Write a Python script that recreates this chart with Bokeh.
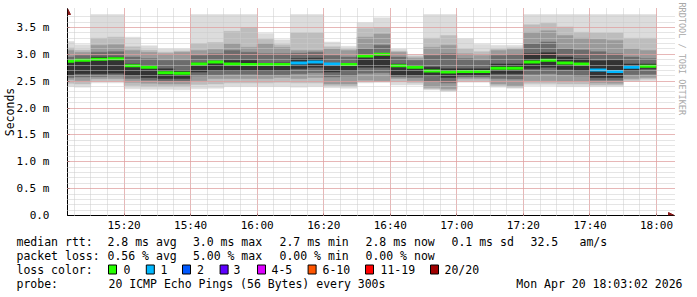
import math
from bokeh.plotting import figure
from bokeh.models import Range1d, FixedTicker, Arrow, NormalHead, Title
from bokeh.layouts import column
from bokeh.embed import file_html
from bokeh.resources import INLINE
from bokeh.core.properties import value

# ---------------- data ----------------
# 5-minute buckets, start minute (since midnight) of each bucket, 15:00 .. 17:55
bucket_start = [900 + 5 * i for i in range(36)]
bucket_end = [s + 5 for s in bucket_start]

median_ms = [2.87, 2.89, 2.91, 2.92, 2.79, 2.76, 2.66, 2.65, 2.82, 2.86,
             2.82, 2.81, 2.81, 2.81, 2.84, 2.86, 2.82, 2.81, 2.97, 3.00,
             2.79, 2.76, 2.69, 2.67, 2.68, 2.68, 2.74, 2.74, 2.86, 2.89,
             2.84, 2.82, 2.71, 2.68, 2.76, 2.78]
loss = [0, 0, 0, 0, 0, 0, 0, 0, 0, 0,
        0, 0, 0, 0, 1, 1, 1, 0, 0, 0,
        0, 0, 0, 0, 0, 0, 0, 0, 0, 0,
        0, 0, 1, 1, 1, 0]

smoke_max = [3.24, 3.18, 3.74, 3.74, 3.32, 3.16, 3.10, 3.10, 3.74, 3.74,
             3.74, 3.74, 3.39, 3.27, 3.74, 3.74, 3.23, 3.15, 3.59, 3.68,
             3.10, 2.99, 3.74, 3.74, 3.29, 3.19, 3.17, 3.17, 3.74, 3.74,
             3.74, 3.74, 3.74, 3.74, 3.74, 3.74]
smoke_hi1 = [3.12, 3.08, 3.30, 3.32, 3.14, 3.08, 3.04, 3.06, 3.20, 3.22,
             3.43, 3.50, 3.28, 3.18, 3.40, 3.40, 3.14, 3.10, 3.48, 3.50,
             3.06, 2.96, 3.30, 3.35, 3.10, 3.05, 3.10, 3.12, 3.55, 3.58,
             3.51, 3.41, 3.40, 3.40, 3.30, 3.30]
smoke_hi2 = [3.07, 3.04, 3.17, 3.18, 3.07, 3.04, 3.01, 3.04, 3.07, 3.09,
             3.20, 3.13, 3.20, 3.13, 3.07, 3.07, 3.10, 3.07, 3.32, 3.38,
             3.04, 2.93, 3.13, 3.17, 3.01, 2.98, 3.07, 3.09, 3.41, 3.44,
             3.35, 3.30, 3.28, 3.26, 3.10, 3.07]
smoke_hi3 = [2.95, 2.98, 3.04, 3.05, 2.95, 2.92, 2.89, 2.89, 2.98, 3.01,
             3.07, 3.04, 3.01, 3.01, 3.02, 3.04, 2.98, 2.95, 3.10, 3.17,
             2.95, 2.89, 2.98, 3.01, 2.92, 2.89, 2.98, 3.00, 3.20, 3.23,
             3.10, 3.08, 3.05, 3.01, 2.95, 2.92]
smoke_hi4 = [2.88, 2.90, 2.95, 2.95, 2.82, 2.79, 2.73, 2.70, 2.84, 2.86,
             2.89, 2.89, 2.82, 2.84, 2.92, 2.93, 2.83, 2.82, 2.98, 3.01,
             2.82, 2.79, 2.76, 2.73, 2.73, 2.73, 2.82, 2.82, 3.01, 3.03,
             2.95, 2.92, 2.88, 2.89, 2.82, 2.82]
smoke_lo4 = [2.62, 2.64, 2.64, 2.65, 2.61, 2.57, 2.55, 2.55, 2.67, 2.70,
             2.70, 2.70, 2.70, 2.70, 2.73, 2.76, 2.67, 2.70, 2.76, 2.76,
             2.61, 2.61, 2.61, 2.57, 2.61, 2.61, 2.64, 2.64, 2.73, 2.76,
             2.72, 2.70, 2.57, 2.57, 2.70, 2.73]
smoke_lo3 = [2.57, 2.58, 2.59, 2.60, 2.55, 2.52, 2.50, 2.50, 2.60, 2.62,
             2.63, 2.63, 2.62, 2.62, 2.64, 2.66, 2.58, 2.60, 2.65, 2.66,
             2.58, 2.57, 2.50, 2.47, 2.58, 2.58, 2.55, 2.54, 2.63, 2.64,
             2.62, 2.60, 2.52, 2.52, 2.62, 2.63]
smoke_lo2 = [2.53, 2.51, 2.55, 2.55, 2.48, 2.46, 2.45, 2.45, 2.51, 2.55,
             2.55, 2.55, 2.55, 2.57, 2.55, 2.57, 2.45, 2.45, 2.52, 2.51,
             2.55, 2.51, 2.39, 2.36, 2.55, 2.55, 2.45, 2.42, 2.51, 2.51,
             2.50, 2.50, 2.47, 2.46, 2.55, 2.57]
smoke_lo1 = [2.46, 2.45, 2.51, 2.51, 2.42, 2.40, 2.40, 2.40, 2.44, 2.45,
             2.47, 2.47, 2.47, 2.48, 2.47, 2.47, 2.42, 2.41, 2.49, 2.49,
             2.49, 2.47, 2.36, 2.33, 2.51, 2.51, 2.42, 2.39, 2.46, 2.46,
             2.45, 2.45, 2.43, 2.43, 2.52, 2.54]
smoke_min = [2.40, 2.39, 2.47, 2.47, 2.36, 2.35, 2.35, 2.34, 2.36, 2.37,
             2.40, 2.40, 2.40, 2.40, 2.39, 2.40, 2.38, 2.37, 2.47, 2.48,
             2.43, 2.43, 2.34, 2.31, 2.48, 2.48, 2.39, 2.37, 2.42, 2.42,
             2.40, 2.40, 2.40, 2.40, 2.50, 2.51]

y_ticks = [0.0, 0.5, 1.0, 1.5, 2.0, 2.5, 3.0, 3.5]
y_tick_labels = ["0.0", "0.5 m", "1.0 m", "1.5 m", "2.0 m", "2.5 m", "3.0 m", "3.5 m"]
x_ticks = [920, 940, 960, 980, 1000, 1020, 1040, 1060, 1080]
x_tick_labels = ["15:20", "15:40", "16:00", "16:20", "16:40", "17:00", "17:20", "17:40", "18:00"]

loss_legend_labels = ["0", "1", "2", "3", "4-5", "6-10", "11-19", "20/20"]
loss_legend_colors = ["#26ff00", "#00b8ff", "#0059ff", "#5e00ff", "#dd00ff", "#ff5500", "#ff0000", "#a00000"]

stats_rtt = ["2.8 ms avg", "3.0 ms max", "2.7 ms min", "2.8 ms now", "0.1 ms sd", "32.5", "am/s"]
stats_loss = ["0.56 % avg", "5.00 % max", "0.00 % min", "0.00 % now"]
probe_text = "20 ICMP Echo Pings (56 Bytes) every 300s"
stamp_text = "Mon Apr 20 18:03:02 2026"

# ---------------- chart ----------------
MONO = "DejaVu Sans Mono"
DATA_TOP = 3.742      # upper edge of the data area
YMAX = 3.854          # frame top (room for the axis arrow)
X0, X1 = 903.0, 1085.4

p = figure(width=697, height=235, x_range=Range1d(X0, X1), y_range=Range1d(0, YMAX),
           output_backend="svg", toolbar_location=None,
           min_border_left=66, min_border_right=23, min_border_top=8, min_border_bottom=20)
p.outline_line_color = None
p.background_fill_color = "white"
p.border_fill_color = "white"
try:
    p.frame_align = False
except Exception:
    pass

layers = [
    (smoke_min, smoke_max, "#dcdcdc"),
    (smoke_lo1, smoke_hi1, "#bdbdbd"),
    (smoke_lo2, smoke_hi2, "#9a9a9a"),
    (smoke_lo3, smoke_hi3, "#6c6c6c"),
    (smoke_lo4, smoke_hi4, "#333333"),
]
for lo, hi, col in layers:
    p.quad(left=bucket_start, right=bucket_end, bottom=lo, top=hi,
           fill_color=col, line_color=col, line_width=0.5)

loss_color = {0: "#26ff00", 1: "#00b8ff"}
p.segment(x0=bucket_start, x1=bucket_end, y0=median_ms, y1=median_ms,
          line_color=[loss_color[l] for l in loss], line_width=3, line_cap="butt")

# grids
minor_x = [905 + 5 * i for i in range(36)]
minor_y = [round(0.1 * i, 2) for i in range(38)]
p.xgrid.ticker = FixedTicker(ticks=x_ticks, minor_ticks=minor_x)
p.ygrid.ticker = FixedTicker(ticks=y_ticks, minor_ticks=minor_y)
for g in (p.xgrid, p.ygrid):
    g.grid_line_color = "#e88888"
    g.grid_line_dash = "1 1"
    g.grid_line_width = 1
    g.minor_grid_line_color = "#cacaca"
    g.minor_grid_line_dash = "1 1"
    g.level = "overlay"
p.xgrid.bounds = (X0, 1083.9)
p.ygrid.bounds = (0, DATA_TOP)

# axes
p.xaxis.ticker = FixedTicker(ticks=x_ticks)
p.xaxis.major_label_overrides = {t: l for t, l in zip(x_ticks, x_tick_labels)}
p.yaxis.ticker = FixedTicker(ticks=y_ticks)
p.yaxis.major_label_overrides = {t: l for t, l in zip(y_ticks, y_tick_labels)}
for ax in (p.xaxis[0], p.yaxis[0]):
    ax.axis_line_color = "black"
    ax.major_tick_in = 2
    ax.major_tick_out = 0
    ax.minor_tick_in = 0
    ax.minor_tick_out = 0
    ax.major_tick_line_color = "black"
    ax.major_label_text_font = MONO
    ax.major_label_text_font_size = "11px"
    ax.major_label_text_color = "black"
p.xaxis.major_label_standoff = 3
p.yaxis.major_label_standoff = 18
p.yaxis.axis_label = "Seconds"
p.yaxis.axis_label_text_font = MONO
p.yaxis.axis_label_text_font_size = "11.5px"
p.yaxis.axis_label_text_font_style = "normal"
p.yaxis.axis_label_text_color = "black"
p.yaxis.axis_label_standoff = -4

head = dict(size=6, fill_color="#8b1a1a", line_color="#8b1a1a")
p.add_layout(Arrow(end=NormalHead(**head), x_start=X0, y_start=0, x_end=X0, y_end=YMAX,
                   line_color="black", line_width=1))
p.add_layout(Arrow(end=NormalHead(**head), x_start=X0, y_start=0, x_end=X1, y_end=0,
                   line_color="black", line_width=1))

p.add_layout(Title(text="RRDTOOL / TOBI OETIKER", align="left", text_font=MONO,
                   text_font_size="8.5px", text_font_style="normal", text_color="#a8a8a8",
                   standoff=4, offset=-6), "right")

# ---------------- text block below ----------------
t = figure(width=697, height=62, x_range=Range1d(0, 697), y_range=Range1d(297, 235),
           output_backend="svg", toolbar_location=None, x_axis_type=None, y_axis_type=None,
           min_border=0)
t.outline_line_color = None
t.grid.visible = False
t.background_fill_color = "white"
t.border_fill_color = "white"
try:
    t.frame_align = False
except Exception:
    pass

row_y = [241, 255, 269, 283]
col_x = [107, 192.4, 279, 365, 451, 530, 579]
tx, ty, tt = [], [], []
for lab, yy in zip(["median rtt:", "packet loss:", "loss color:", "probe:"], row_y):
    tx.append(16); ty.append(yy); tt.append(lab)
for s, xx in zip(stats_rtt, col_x):
    tx.append(xx); ty.append(row_y[0]); tt.append(s)
for s, xx in zip(stats_loss, col_x):
    tx.append(xx); ty.append(row_y[1]); tt.append(s)
tx.append(108); ty.append(row_y[3]); tt.append(probe_text)
t.text(x=tx, y=ty, text=tt, text_font=value(MONO), text_font_size="11.5px",
       text_baseline="middle", text_align="left", text_color="black")
t.text(x=[682], y=[row_y[3]], text=[stamp_text], text_font=value(MONO), text_font_size="11.5px",
       text_baseline="middle", text_align="right", text_color="black")

box_x = [108, 145.8, 182, 219.6, 257, 307.6, 365, 430]
lab_x = [123, 160, 196.4, 233, 271, 322, 380, 444]
t.quad(left=box_x, right=[b + 8 for b in box_x], top=[row_y[2] - 4.5] * 8, bottom=[row_y[2] + 4.5] * 8,
       fill_color=loss_legend_colors, line_color="black", line_width=1)
t.text(x=lab_x, y=[row_y[2]] * 8, text=loss_legend_labels, text_font=value(MONO), text_font_size="11.5px",
       text_baseline="middle", text_align="left", text_color="black")

layout = column(p, t, spacing=0)
open("out.html", "w").write(file_html(layout, INLINE))
